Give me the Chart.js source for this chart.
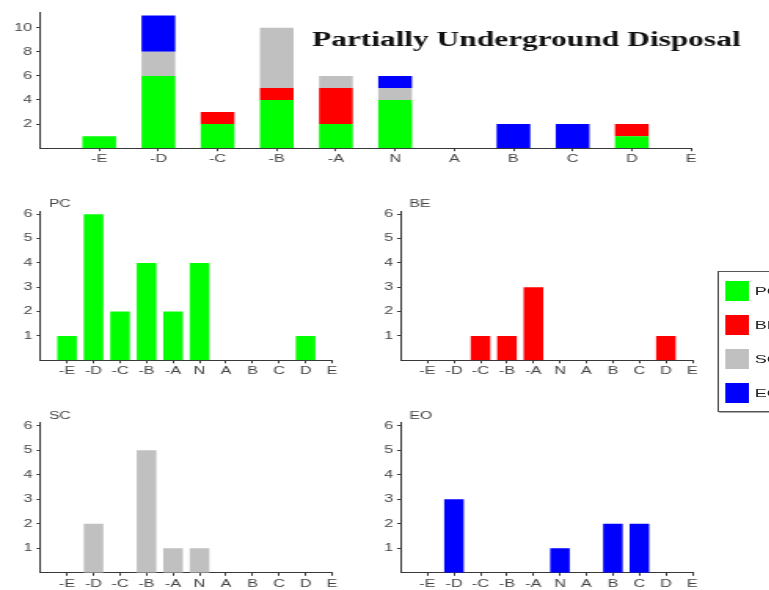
<!DOCTYPE html>
<html>
<head>
<meta charset="utf-8">
<script src="https://cdn.jsdelivr.net/npm/chart.js@4/dist/chart.umd.min.js"></script>
<style>
  html, body { margin: 0; padding: 0; width: 769px; height: 590px; overflow: hidden; background: #fff; }
  /* charts are laid out at natural proportions, then widened as a whole */
  #stage { position: absolute; left: 0; top: 0; width: 490px; height: 590px;
           transform: scaleX(1.57); transform-origin: 0 0; }
  #stage canvas { position: absolute; }
  #legend { position: absolute; left: 456.5px; top: 271px; width: 60px; height: 139px;
            border: 1px solid #555; box-shadow: 1px 1px 0 #aaa; background: #fff;
            font-family: 'Liberation Sans', Arial, sans-serif; font-size: 11.5px; color: #222; }
  .item { position: absolute; left: 4.7px; height: 20px; display: flex; align-items: center; white-space: nowrap; }
  .sw { width: 15px; height: 20px; margin-right: 3.5px; }
</style>
</head>
<body>
<div id="stage">
  <canvas id="stacked" width="490" height="172" style="left:0;top:0"></canvas>
  <canvas id="panelPC" width="220" height="195" style="left:0;top:190px"></canvas>
  <canvas id="panelBE" width="220" height="195" style="left:230px;top:190px"></canvas>
  <canvas id="panelSC" width="220" height="195" style="left:0;top:400px"></canvas>
  <canvas id="panelEO" width="220" height="195" style="left:230px;top:400px"></canvas>
  <div id="legend"></div>
</div>
<script>
// Rating categories along the x axis
const categories = ['-E', '-D', '-C', '-B', '-A', 'N', 'A', 'B', 'C', 'D', 'E'];
// Series names
const seriesNames = ['PC', 'BE', 'SC', 'EO'];
// Counts per category for each series
const pcCounts = [1, 6, 2, 4, 2, 4, 0, 0, 0, 1, 0];
const beCounts = [0, 0, 1, 1, 3, 0, 0, 0, 0, 1, 0];
const scCounts = [0, 2, 0, 5, 1, 1, 0, 0, 0, 0, 0];
const eoCounts = [0, 3, 0, 0, 0, 1, 0, 2, 2, 0, 0];
// Y tick labels
const stackedTicks = [2, 4, 6, 8, 10];
const panelTicks = [1, 2, 3, 4, 5, 6];
const titleText = 'Partially Underground Disposal';

const seriesCounts = { PC: pcCounts, BE: beCounts, SC: scCounts, EO: eoCounts };
const seriesColors = { PC: '#00ff00', BE: '#ff0000', SC: '#c0c0c0', EO: '#0000ff' };

Chart.defaults.font.family = "'Liberation Sans', Arial, sans-serif";
Chart.defaults.font.size = 10.3;
Chart.defaults.color = '#444';
Chart.defaults.animation = false;

const AXIS = '#383838';

// Draws a text label relative to the plot area
const cornerText = {
  id: 'cornerText',
  afterDraw(chart, args, opts) {
    if (!opts.text) return;
    const { ctx, chartArea } = chart;
    ctx.save();
    ctx.font = opts.font;
    ctx.fillStyle = opts.color;
    ctx.textAlign = 'left';
    ctx.textBaseline = opts.baseline || 'middle';
    ctx.fillText(opts.text, chartArea.left + opts.dx, chartArea.top + opts.dy);
    ctx.restore();
  }
};

function toPoints(counts) {
  return counts.map((v, i) => ({ x: i, y: v }));
}

// box: plot-area edges in canvas pixels
function buildChart(id, datasets, box, yMax, yTicks, barPct, label) {
  const canvas = document.getElementById(id);
  const xHeight = canvas.height - box.bottom;
  return new Chart(canvas, {
    type: 'bar',
    data: { datasets },
    options: {
      responsive: false,
      layout: { padding: { left: 0, top: box.top, right: canvas.width - box.right, bottom: 0 } },
      datasets: { bar: { categoryPercentage: 1, barPercentage: barPct } },
      scales: {
        x: {
          type: 'linear', min: -1, max: 10, stacked: true, offset: false,
          afterBuildTicks: s => { s.ticks = categories.map((c, i) => ({ value: i })); },
          afterFit: s => { s.height = xHeight; },
          ticks: { autoSkip: false, maxRotation: 0, padding: 2,
                   callback: v => categories[v] },
          grid: { drawOnChartArea: false, drawTicks: true, tickLength: 3, color: AXIS, offset: false },
          border: { display: true, color: AXIS, width: 1 }
        },
        y: {
          min: 0, max: yMax, stacked: true,
          afterBuildTicks: s => { s.ticks = yTicks.map(v => ({ value: v })); },
          afterFit: s => { s.width = box.left; },
          ticks: { padding: 2.5, callback: v => String(v) },
          grid: { drawOnChartArea: false, drawTicks: true, tickLength: 2.5, color: AXIS },
          border: { display: true, color: AXIS, width: 1 }
        }
      },
      plugins: {
        legend: { display: false },
        tooltip: { enabled: false },
        cornerText: label
      }
    },
    plugins: [cornerText]
  });
}

// Stacked overview
buildChart('stacked',
  seriesNames.map(n => ({ label: n, data: toPoints(seriesCounts[n]), backgroundColor: seriesColors[n], borderWidth: 0 })),
  { left: 25.5, top: 12, right: 440.1, bottom: 148.2 },
  11.3, stackedTicks, 0.57,
  { text: titleText, font: "bold 20px 'Liberation Serif', 'Times New Roman', serif", color: '#111',
    dx: 173.2, dy: 33.7, baseline: 'alphabetic' });

// One panel per series
const panelBoxes = {
  PC: { left: 25.8, top: 21,   right: 211.5, bottom: 170.3 },
  BE: { left: 25.4, top: 21,   right: 211.0, bottom: 170.3 },
  SC: { left: 25.8, top: 22.7, right: 211.5, bottom: 172.8 },
  EO: { left: 25.4, top: 22.7, right: 211.0, bottom: 172.8 }
};
seriesNames.forEach(n => {
  buildChart('panel' + n,
    [{ label: n, data: toPoints(seriesCounts[n]), backgroundColor: seriesColors[n], borderWidth: 0 }],
    panelBoxes[n], 6.13, panelTicks, 0.74,
    { text: n, font: "10px 'Liberation Sans', Arial, sans-serif", color: '#444', dx: 5.4, dy: -6.3 });
});

// Legend
const legend = document.getElementById('legend');
seriesNames.forEach((n, i) => {
  const item = document.createElement('div');
  item.className = 'item';
  item.style.top = (9 + i * 34) + 'px';
  const sw = document.createElement('span');
  sw.className = 'sw';
  sw.style.background = seriesColors[n];
  const tx = document.createElement('span');
  tx.textContent = n;
  item.appendChild(sw);
  item.appendChild(tx);
  legend.appendChild(item);
});
</script>
</body>
</html>
